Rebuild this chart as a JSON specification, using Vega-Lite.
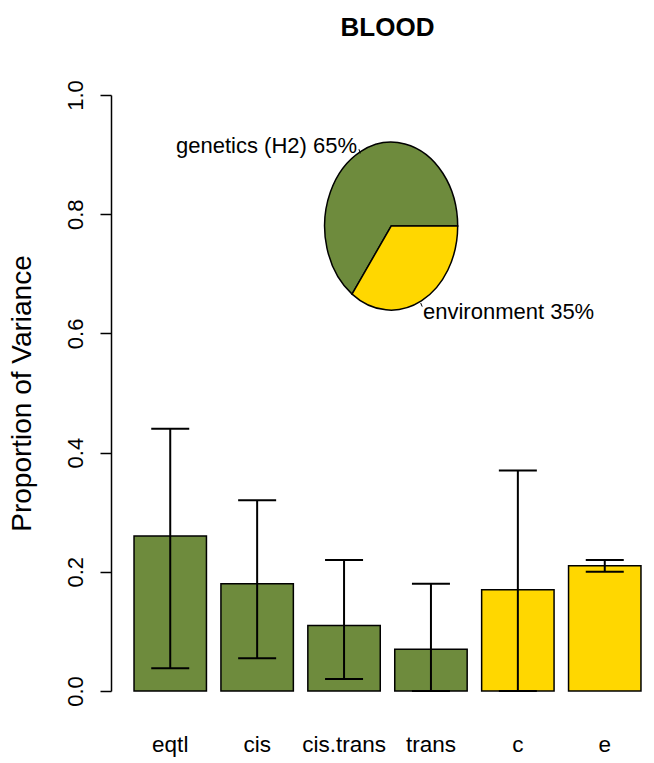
{
  "$schema": "https://vega.github.io/schema/vega-lite/v6.json",
  "width": 553,
  "height": 596,
  "autosize": {"type": "none"},
  "padding": {"left": 111, "top": 95, "right": 0, "bottom": 72},
  "background": "white",
  "title": {"text": "BLOOD", "font": "Liberation Sans", "fontSize": 26, "fontWeight": "bold", "anchor": "middle", "offset": 39, "color": "black"},
  "config": {
    "view": {"stroke": null},
    "font": "Liberation Sans",
    "axisY": {
      "labelAngle": -90,
      "labelAlign": "center",
      "labelBaseline": "alphabetic",
      "labelFontSize": 22,
      "labelColor": "black",
      "labelPadding": 18,
      "tickSize": 11,
      "tickColor": "black",
      "tickWidth": 1.5,
      "domainColor": "black",
      "domainWidth": 1.5,
      "grid": false,
      "titleFontSize": 28,
      "titleFontWeight": "normal",
      "titleColor": "black",
      "titlePadding": 28
    }
  },
  "datasets": {
    "bars": [
      {"name": "eqtl", "value": 0.26, "lo": 0.038, "hi": 0.44, "group": "genetics"},
      {"name": "cis", "value": 0.18, "lo": 0.055, "hi": 0.32, "group": "genetics"},
      {"name": "cis.trans", "value": 0.11, "lo": 0.02, "hi": 0.22, "group": "genetics"},
      {"name": "trans", "value": 0.07, "lo": 0.0, "hi": 0.18, "group": "genetics"},
      {"name": "c", "value": 0.17, "lo": 0.0, "hi": 0.37, "group": "environment"},
      {"name": "e", "value": 0.21, "lo": 0.20, "hi": 0.22, "group": "environment"}
    ],
    "pie": [
      {"group": "genetics", "share": 65, "label": "genetics (H2) 65%"},
      {"group": "environment", "share": 35, "label": "environment 35%"}
    ]
  },
  "layer": [
    {
      "data": {"name": "bars"},
      "encoding": {
        "x": {
          "field": "name", "type": "nominal", "sort": null,
          "scale": {"paddingInner": 0.1667, "paddingOuter": 0.265},
          "axis": {"title": null, "labelAngle": 0, "domain": false, "ticks": false, "labelFontSize": 22.5, "labelColor": "black", "labelPadding": 60, "labelBaseline": "alphabetic"}
        }
      },
      "layer": [
        {
          "mark": {"type": "bar", "stroke": "black", "strokeWidth": 1.5},
          "encoding": {
            "y": {"field": "value", "type": "quantitative", "scale": {"domain": [0, 1], "nice": false, "zero": false}, "title": "Proportion of Variance", "axis": {"values": [0, 0.2, 0.4, 0.6, 0.8, 1], "format": ".1f"}},
            "color": {"field": "group", "type": "nominal", "scale": {"domain": ["genetics", "environment"], "range": ["#6E8B3D", "#FFD700"]}, "legend": null}
          }
        },
        {
          "mark": {"type": "rule", "color": "black", "strokeWidth": 2},
          "encoding": {
            "y": {"field": "lo", "type": "quantitative", "scale": {"domain": [0, 1], "nice": false, "zero": false}, "title": "Proportion of Variance", "axis": {"values": [0, 0.2, 0.4, 0.6, 0.8, 1], "format": ".1f"}},
            "y2": {"field": "hi"}
          }
        },
        {
          "mark": {"type": "tick", "color": "black", "size": 38, "thickness": 2, "opacity": 1},
          "encoding": {
            "y": {"field": "hi", "type": "quantitative", "scale": {"domain": [0, 1], "nice": false, "zero": false}, "title": "Proportion of Variance", "axis": {"values": [0, 0.2, 0.4, 0.6, 0.8, 1], "format": ".1f"}}
          }
        },
        {
          "mark": {"type": "tick", "color": "black", "size": 38, "thickness": 2, "opacity": 1},
          "encoding": {
            "y": {"field": "lo", "type": "quantitative", "scale": {"domain": [0, 1], "nice": false, "zero": false}, "title": "Proportion of Variance", "axis": {"values": [0, 0.2, 0.4, 0.6, 0.8, 1], "format": ".1f"}}
          }
        }
      ]
    },
    {
      "data": {"name": "pie"},
      "layer": [
        {
          "mark": {"type": "point", "filled": true, "size": 28224, "stroke": "black", "strokeWidth": 1.5, "opacity": 1},
          "encoding": {
            "x": {"datum": 3.75, "type": "quantitative", "scale": {"domain": [-0.08, 7.48], "nice": false, "zero": false}, "axis": null},
            "y": {"datum": 0.78, "type": "quantitative", "scale": {"domain": [0, 1], "nice": false, "zero": false}, "title": "Proportion of Variance", "axis": {"values": [0, 0.2, 0.4, 0.6, 0.8, 1], "format": ".1f"}},
            "shape": {"field": "group", "type": "nominal", "scale": {"domain": ["genetics", "environment"], "range": ["M0,0 L0.792,0 A0.792,1 0 1 0 -0.4655,0.809 Z", "M0,0 L-0.4655,0.809 A0.792,1 0 0 0 0.792,0 Z"]}, "legend": null},
            "color": {"field": "group", "type": "nominal", "scale": {"domain": ["genetics", "environment"], "range": ["#6E8B3D", "#FFD700"]}, "legend": null}
          }
        },
        {
          "transform": [{"filter": "datum.group === 'genetics'"}],
          "mark": {"type": "text", "align": "right", "baseline": "alphabetic", "fontSize": 22, "color": "black"},
          "encoding": {
            "x": {"datum": 3.283, "type": "quantitative", "scale": {"domain": [-0.08, 7.48], "nice": false, "zero": false}, "axis": null},
            "y": {"datum": 0.903, "type": "quantitative", "scale": {"domain": [0, 1], "nice": false, "zero": false}, "title": "Proportion of Variance", "axis": {"values": [0, 0.2, 0.4, 0.6, 0.8, 1], "format": ".1f"}},
            "text": {"field": "label"}
          }
        },
        {
          "transform": [{"filter": "datum.group === 'environment'"}],
          "mark": {"type": "text", "align": "left", "baseline": "alphabetic", "fontSize": 22, "color": "black"},
          "encoding": {
            "x": {"datum": 4.185, "type": "quantitative", "scale": {"domain": [-0.08, 7.48], "nice": false, "zero": false}, "axis": null},
            "y": {"datum": 0.624, "type": "quantitative", "scale": {"domain": [0, 1], "nice": false, "zero": false}, "title": "Proportion of Variance", "axis": {"values": [0, 0.2, 0.4, 0.6, 0.8, 1], "format": ".1f"}},
            "text": {"field": "label"}
          }
        },
        {
          "transform": [{"filter": "datum.group === 'genetics'"}],
          "mark": {"type": "rule", "color": "black", "strokeWidth": 1},
          "encoding": {
            "x": {"datum": 3.328, "type": "quantitative", "scale": {"domain": [-0.08, 7.48], "nice": false, "zero": false}, "axis": null},
            "x2": {"datum": 3.31},
            "y": {"datum": 0.902, "type": "quantitative", "scale": {"domain": [0, 1], "nice": false, "zero": false}, "title": "Proportion of Variance", "axis": {"values": [0, 0.2, 0.4, 0.6, 0.8, 1], "format": ".1f"}},
            "y2": {"datum": 0.909}
          }
        },
        {
          "transform": [{"filter": "datum.group === 'environment'"}],
          "mark": {"type": "rule", "color": "black", "strokeWidth": 1},
          "encoding": {
            "x": {"datum": 4.154, "type": "quantitative", "scale": {"domain": [-0.08, 7.48], "nice": false, "zero": false}, "axis": null},
            "x2": {"datum": 4.174},
            "y": {"datum": 0.651, "type": "quantitative", "scale": {"domain": [0, 1], "nice": false, "zero": false}, "title": "Proportion of Variance", "axis": {"values": [0, 0.2, 0.4, 0.6, 0.8, 1], "format": ".1f"}},
            "y2": {"datum": 0.645}
          }
        }
      ]
    }
  ],
  "resolve": {"scale": {"x": "independent"}}
}
